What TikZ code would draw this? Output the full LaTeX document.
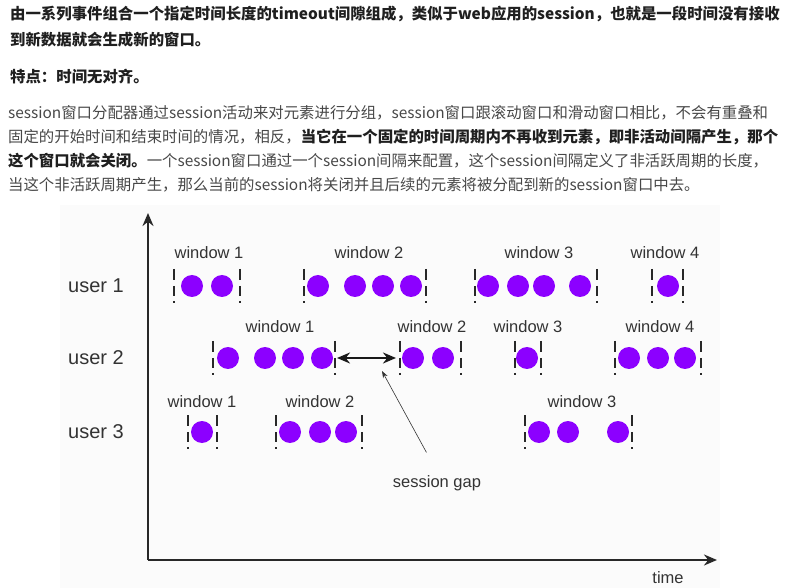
\documentclass[tikz,border=0pt]{standalone}
\usepackage{fontspec}
\setmainfont{Liberation Sans}
\newfontfamily\cjk{Noto Sans CJK SC}
\usetikzlibrary{arrows.meta}
\definecolor{evtpurple}{RGB}{140,0,255}
\definecolor{axisgray}{RGB}{40,40,40}
\begin{document}
\begin{tikzpicture}[x=1pt, y=-1pt, >={Stealth[length=13pt, width=11pt]},
  evt/.style={fill=evtpurple},
  winbar/.style={line width=2pt, draw=axisgray, dash pattern=on 11pt off 6pt on 10pt off 5pt on 2pt off 20pt},
  winlab/.style={font=\fontsize{16.5}{17}\selectfont, text=black!80},
  userlab/.style={font=\fontsize{20}{20}\selectfont, text=black!80},
  para/.style={anchor=west, inner sep=0pt, font=\cjk\fontsize{15.4}{16}\selectfont, text=black!72},
  head/.style={para, font=\cjk\bfseries\fontsize{15.4}{16}\selectfont, text=black!88}]
  \useasboundingbox (0,0) rectangle (788,588);
  \fill[black!1.5] (60,205) rectangle (720,588);

  % text above the picture
  \node[head] (l1) at (10,14) {由一系列事件组合一个指定时间长度的timeout间隙组成，类似于web应用的session，也就是一段时间没有接收};
  \node[head] (l2) at (10,40) {到新数据就会生成新的窗口。};
  \node[head] (l3) at (10,77) {特点：时间无对齐。};
  \node[para] (p1) at (8,113) {session窗口分配器通过session活动来对元素进行分组，session窗口跟滚动窗口和滑动窗口相比，不会有重叠和};
  \node[para] (p2) at (8,137) {固定的开始时间和结束时间的情况，相反，{\bfseries\color{black!88}当它在一个固定的时间周期内不再收到元素，即非活动间隔产生，那个}};
  \node[para] (p3) at (8,161) {{\bfseries\color{black!88}这个窗口就会关闭。}一个session窗口通过一个session间隔来配置，这个session间隔定义了非活跃周期的长度，};
  \node[para] (p4) at (8,185) {当这个非活跃周期产生，那么当前的session将关闭并且后续的元素将被分配到新的session窗口中去。};

  % axes
  \coordinate (origin) at (148,560);
  \coordinate (ytip) at (148,213);
  \coordinate (xtip) at (717,560);
  \draw[line width=2.6pt, draw=axisgray, ->] (origin) -- (ytip);
  \draw[line width=2.6pt, draw=axisgray, ->] (origin) -- (xtip);
  \node[winlab] (time) at (668,578) {time};

  \node[userlab] (u1) at (96,286) {user 1};
  \node[userlab] (u2) at (96,358) {user 2};
  \node[userlab] (u3) at (96,432) {user 3};

  % user 1
  \foreach \n/\x in {1/209, 2/369, 3/539, 4/665}
    \node[winlab] at (\x,253) {window \n};
  \foreach \x in {174, 240, 304, 426, 475, 597, 652, 683}
    \draw[winbar] (\x,269) -- (\x,303);
  \foreach \x in {192, 222, 318, 355, 383, 411, 488, 518, 544, 580, 668}
    \fill[evt] (\x,286) circle (11);

  % user 2
  \foreach \n/\x in {1/280, 2/432, 3/528, 4/660}
    \node[winlab] at (\x,327) {window \n};
  \foreach \x in {213, 335, 400, 461, 515, 541, 615, 701}
    \draw[winbar] (\x,341) -- (\x,375);
  \foreach \x in {228, 265, 293, 322, 413, 443, 527, 629, 658, 685}
    \fill[evt] (\x,358) circle (11);

  % user 3
  \foreach \n/\x in {1/202, 2/320, 3/582}
    \node[winlab] at (\x,402) {window \n};
  \foreach \x in {188, 217, 276, 362, 525, 632}
    \draw[winbar] (\x,415) -- (\x,449);
  \foreach \x in {202, 290, 320, 346, 539, 568, 618}
    \fill[evt] (\x,432) circle (11);

  % session gap
  \coordinate (w1end) at (335,358);
  \coordinate (w2start) at (400,358);
  \draw[line width=2.4pt, draw=black!90, <->, shorten <=2pt, shorten >=4pt] (w1end) -- (w2start);
  \node[winlab] (gap) at (437,483) {session gap};
  \coordinate (gaptip) at (382,371);
  \draw[line width=0.6pt, draw=black!80, -{Stealth[length=7pt, width=5pt]}, shorten <=22pt] (gap.north) -- (gaptip);
\end{tikzpicture}
\end{document}
